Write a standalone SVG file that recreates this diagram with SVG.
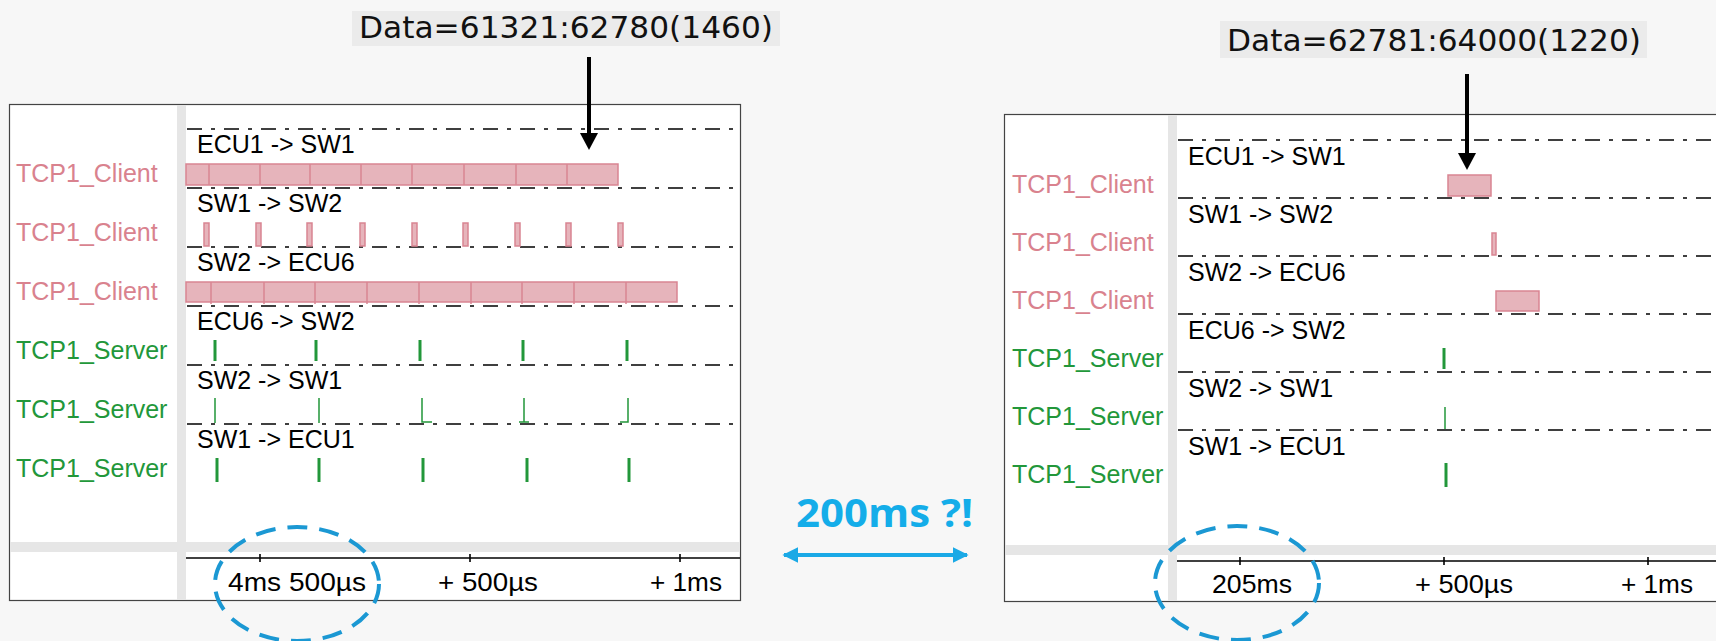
<svg xmlns="http://www.w3.org/2000/svg" width="1716" height="641" viewBox="0 0 1716 641">
<style>
.bg{fill:#f7f7f7}
.panel{fill:#ffffff;stroke:#444444;stroke-width:1.2}
.strip{fill:#e6e6e6}
.dash{stroke:#000000;stroke-width:1.6;stroke-dasharray:15 9 4 9;fill:none}
.axis{stroke:#000000;stroke-width:1.6;fill:none}
.row{font-family:"Liberation Sans",Arial,sans-serif;font-size:25px;fill:#000000}
.cl{font-family:"Liberation Sans",Arial,sans-serif;font-size:25px;fill:#d9828e}
.sv{font-family:"Liberation Sans",Arial,sans-serif;font-size:25px;fill:#22973a}
.ax{font-family:"Liberation Sans",Arial,sans-serif;font-size:26px;fill:#000000}
.bar{fill:#e6b4bb;stroke:#d98592;stroke-width:1.5}
.div{stroke:#d98592;stroke-width:1.5}
.g3{stroke:#22973a;stroke-width:3}
.g1{stroke:#22973a;stroke-width:1.5;fill:none}
.lbl{fill:#ebebeb}
.data{font-family:"DejaVu Sans",sans-serif;font-size:30px;fill:#111111}
.blk{stroke:#000000;stroke-width:4}
.ell{fill:none;stroke:#1b98d3;stroke-width:4;stroke-dasharray:20 12}
.blue{font-family:"Open Sans","Liberation Sans",sans-serif;font-weight:700;font-size:40px;fill:#14ade9}
</style>
<defs>
<marker id="bh" viewBox="0 0 10 10" refX="9" refY="5" markerWidth="4" markerHeight="4" orient="auto-start-reverse" markerUnits="strokeWidth">
<path d="M0,0 L10,5 L0,10 z" fill="#1aa9e6"/>
</marker>
</defs>
<rect class="bg" x="0" y="0" width="1716" height="641"/>

<g id="left-panel">
<rect class="panel" x="9.5" y="104.5" width="731" height="496"/>
<rect class="strip" x="177" y="105" width="9" height="495"/>
<rect class="strip" x="10" y="542" width="730" height="10"/>
<line class="axis" x1="186" y1="558" x2="740" y2="558"/>
<line class="axis" x1="260" y1="554" x2="260" y2="562"/>
<line class="axis" x1="470" y1="554" x2="470" y2="562"/>
<line class="axis" x1="680" y1="554" x2="680" y2="562"/>
<text class="ax" x="228" y="591" textLength="138" lengthAdjust="spacingAndGlyphs">4ms 500µs</text>
<text class="ax" x="438" y="591" textLength="100" lengthAdjust="spacingAndGlyphs">+ 500µs</text>
<text class="ax" x="650" y="591" textLength="72" lengthAdjust="spacingAndGlyphs">+ 1ms</text>
</g>

<g id="left-rows">
<line class="dash" x1="187" y1="129" x2="740" y2="129"/>
<line class="dash" x1="187" y1="188" x2="740" y2="188"/>
<line class="dash" x1="187" y1="247" x2="740" y2="247"/>
<line class="dash" x1="187" y1="306" x2="740" y2="306"/>
<line class="dash" x1="187" y1="365" x2="740" y2="365"/>
<line class="dash" x1="187" y1="424" x2="740" y2="424"/>
<text class="row" x="197" y="153">ECU1 -&gt; SW1</text>
<text class="row" x="197" y="212">SW1 -&gt; SW2</text>
<text class="row" x="197" y="271">SW2 -&gt; ECU6</text>
<text class="row" x="197" y="330">ECU6 -&gt; SW2</text>
<text class="row" x="197" y="389">SW2 -&gt; SW1</text>
<text class="row" x="197" y="448">SW1 -&gt; ECU1</text>
<text class="cl" x="16" y="182">TCP1_Client</text>
<text class="cl" x="16" y="241">TCP1_Client</text>
<text class="cl" x="16" y="300">TCP1_Client</text>
<text class="sv" x="16" y="359">TCP1_Server</text>
<text class="sv" x="16" y="418">TCP1_Server</text>
<text class="sv" x="16" y="477">TCP1_Server</text>
</g>

<g id="left-traffic">
<rect class="bar" x="186" y="164" width="432" height="21"/>
<path class="div" d="M209,164V185M260,164V185M310,164V185M361,164V185M412,164V185M464,164V185M516,164V185M567,164V185"/>
<rect class="bar" x="204" y="223" width="5" height="23"/>
<rect class="bar" x="256" y="223" width="5" height="23"/>
<rect class="bar" x="307" y="223" width="5" height="23"/>
<rect class="bar" x="360" y="223" width="5" height="23"/>
<rect class="bar" x="412" y="223" width="5" height="23"/>
<rect class="bar" x="463" y="223" width="5" height="23"/>
<rect class="bar" x="515" y="223" width="5" height="23"/>
<rect class="bar" x="566" y="223" width="5" height="23"/>
<rect class="bar" x="618" y="223" width="5" height="23"/>
<rect class="bar" x="186" y="282" width="491" height="20"/>
<path class="div" d="M211,282V304M264,282V304M315,282V304M367,282V304M419,282V304M471,282V304M522,282V304M574,282V304M626,282V304"/>
<path class="g3" d="M215,340V361M316,340V361M420,340V361M523,340V361M627,340V361"/>
<path class="g1" d="M215,398V423M319,398V423M422,398V422H432M524,398V422M519,422H529M628,398V422H620"/>
<path class="g3" d="M217,458V482M319,458V482M423,458V482M527,458V482M629,458V482"/>
</g>

<g id="right-panel">
<rect class="panel" x="1004.5" y="114.5" width="760" height="487"/>
<rect class="strip" x="1168" y="115" width="9" height="486"/>
<rect class="strip" x="1005" y="545" width="711" height="10"/>
<line class="axis" x1="1177" y1="561" x2="1716" y2="561"/>
<line class="axis" x1="1240" y1="557" x2="1240" y2="565"/>
<line class="axis" x1="1444" y1="557" x2="1444" y2="565"/>
<line class="axis" x1="1648" y1="557" x2="1648" y2="565"/>
<text class="ax" x="1212" y="593" textLength="80" lengthAdjust="spacingAndGlyphs">205ms</text>
<text class="ax" x="1415" y="593" textLength="98" lengthAdjust="spacingAndGlyphs">+ 500µs</text>
<text class="ax" x="1621" y="593" textLength="72" lengthAdjust="spacingAndGlyphs">+ 1ms</text>
</g>

<g id="right-rows">
<line class="dash" x1="1178" y1="140" x2="1716" y2="140"/>
<line class="dash" x1="1178" y1="198" x2="1716" y2="198"/>
<line class="dash" x1="1178" y1="256" x2="1716" y2="256"/>
<line class="dash" x1="1178" y1="314" x2="1716" y2="314"/>
<line class="dash" x1="1178" y1="372" x2="1716" y2="372"/>
<line class="dash" x1="1178" y1="430" x2="1716" y2="430"/>
<text class="row" x="1188" y="165">ECU1 -&gt; SW1</text>
<text class="row" x="1188" y="223">SW1 -&gt; SW2</text>
<text class="row" x="1188" y="281">SW2 -&gt; ECU6</text>
<text class="row" x="1188" y="339">ECU6 -&gt; SW2</text>
<text class="row" x="1188" y="397">SW2 -&gt; SW1</text>
<text class="row" x="1188" y="455">SW1 -&gt; ECU1</text>
<text class="cl" x="1012" y="193">TCP1_Client</text>
<text class="cl" x="1012" y="251">TCP1_Client</text>
<text class="cl" x="1012" y="309">TCP1_Client</text>
<text class="sv" x="1012" y="367">TCP1_Server</text>
<text class="sv" x="1012" y="425">TCP1_Server</text>
<text class="sv" x="1012" y="483">TCP1_Server</text>
</g>

<g id="right-traffic">
<rect class="bar" x="1448" y="175" width="43" height="21"/>
<rect class="bar" x="1492" y="233" width="4" height="22"/>
<rect class="bar" x="1496" y="291" width="43" height="20"/>
<path class="g3" d="M1444,348V369"/>
<path class="g1" d="M1445,407V429"/>
<path class="g3" d="M1446,463V487"/>
</g>

<g id="label-left">
<rect class="lbl" x="352" y="11" width="428" height="35"/>
<text class="data" x="359" y="38" textLength="414" lengthAdjust="spacingAndGlyphs">Data=61321:62780(1460)</text>
</g>
<g id="label-right">
<rect class="lbl" x="1220" y="21" width="427" height="37"/>
<text class="data" x="1227" y="51" textLength="414" lengthAdjust="spacingAndGlyphs">Data=62781:64000(1220)</text>
</g>

<g id="connectors">
<line class="blk" x1="589" y1="57" x2="589" y2="136"/>
<polygon points="580,133 598,133 589,150" fill="#000000"/>
<line class="blk" x1="1467" y1="74" x2="1467" y2="156"/>
<polygon points="1458,153 1476,153 1467,170" fill="#000000"/>
<line x1="784" y1="555" x2="967" y2="555" stroke="#1aa9e6" stroke-width="4" marker-start="url(#bh)" marker-end="url(#bh)"/>
</g>

<g id="annotations">
<text class="blue" x="796" y="527" textLength="177" lengthAdjust="spacingAndGlyphs">200ms ?!</text>
<ellipse class="ell" cx="297" cy="584" rx="82" ry="57"/>
<ellipse class="ell" cx="1237" cy="583" rx="82" ry="57"/>
</g>
</svg>
